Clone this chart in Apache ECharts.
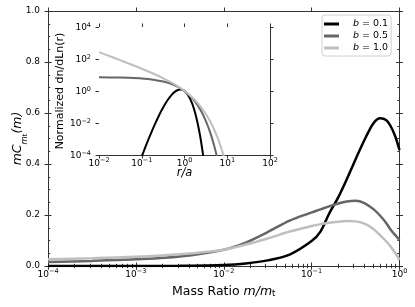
<!DOCTYPE html>
<html><head><meta charset="utf-8">
<script src="https://cdn.jsdelivr.net/npm/echarts@6/dist/echarts.min.js"></script>
<style>html,body{margin:0;padding:0;background:#fff}#c{width:415px;height:307px}</style>
</head><body><div id="c"></div><script>
// ---------- data ----------
const seriesNames = ['b = 0.1', 'b = 0.5', 'b = 1.0'];
const massRatio = [0.0001, 0.000316, 0.001, 0.00316, 0.01, 0.0178, 0.0316, 0.0562, 0.1, 0.126, 0.158, 0.2, 0.251, 0.316, 0.398, 0.501, 0.603, 0.708, 0.794, 0.891, 1.0];
const mcB01 = [0.000, 0.000, 0.000, 0.001, 0.004, 0.010, 0.022, 0.045, 0.098, 0.135, 0.205, 0.268, 0.340, 0.418, 0.493, 0.558, 0.579, 0.572, 0.548, 0.510, 0.455];
const mcB05 = [0.016, 0.020, 0.026, 0.037, 0.064, 0.092, 0.133, 0.178, 0.210, 0.222, 0.234, 0.245, 0.253, 0.256, 0.247, 0.224, 0.197, 0.168, 0.142, 0.122, 0.102];
const mcB10 = [0.026, 0.030, 0.036, 0.046, 0.064, 0.084, 0.108, 0.135, 0.157, 0.164, 0.170, 0.174, 0.176, 0.175, 0.166, 0.146, 0.120, 0.096, 0.076, 0.052, 0.024];

const radiusB01 = [0.09, 0.1, 0.12, 0.15, 0.2, 0.25, 0.3, 0.4, 0.5, 0.6, 0.7, 0.8, 0.9, 1.0, 1.2, 1.5, 1.8, 2.0, 2.3, 2.6, 2.8];
const dnB01 = [3.9e-5, 8.1e-5, 2.86e-4, 1.26e-3, 7.63e-3, 0.0276, 0.072, 0.264, 0.58, 0.917, 1.158, 1.24, 1.17, 1.0, 0.582, 0.173, 0.037, 0.0116, 1.77e-3, 2.35e-4, 5.75e-5];
const radiusB05 = [0.01, 0.03, 0.05, 0.1, 0.2, 0.3, 0.5, 0.7, 1.0, 1.3, 1.6, 2.0, 2.5, 3.0, 3.5, 4.0, 4.5, 5.0, 5.5, 6.0];
const dnB05 = [7.24, 6.96, 6.69, 6.05, 4.95, 4.06, 2.72, 1.82, 1.0, 0.549, 0.301, 0.135, 0.0498, 0.0183, 0.00674, 0.00248, 0.000912, 0.000335, 0.000123, 0.0000454];
const radiusB10 = [0.01, 0.02, 0.03, 0.05, 0.1, 0.2, 0.3, 0.5, 0.7, 1.0, 1.5, 2.0, 3.0, 4.0, 5.0, 6.0, 7.0, 8.0, 9.0];
const dnB10 = [269, 133, 87.9, 51.7, 24.6, 11.1, 6.71, 3.30, 1.93, 1.0, 0.404, 0.184, 0.0451, 0.01245, 0.00366, 0.00112, 0.000354, 0.000114, 0.0000373];

const mainXTicks = [1e-4, 1e-3, 1e-2, 1e-1, 1];
const mainYTicks = [0, 0.2, 0.4, 0.6, 0.8, 1.0];
const mainYMinor = [0.05, 0.1, 0.15, 0.25, 0.3, 0.35, 0.45, 0.5, 0.55, 0.65, 0.7, 0.75, 0.85, 0.9, 0.95];
const insetXTicks = [1e-2, 1e-1, 1, 10, 100];
const insetYTicks = [1e-4, 1e-2, 1, 1e2, 1e4];

// ---------- styling ----------
const FONT = 'DejaVu Sans';
const LINE = '#333';
const colors = ['#000000', '#666666', '#bfbfbf'];

function logMinors(lo, hi) {
  const r = [];
  for (let e = lo; e < hi; e++) for (let k = 2; k <= 9; k++) r.push(k * Math.pow(10, e));
  return r;
}
function sci(v) {
  const e = Math.round(Math.log10(v));
  return '{b|10}{s|' + (e < 0 ? '\u2212' + (-e) : e) + '}';
}
const supRich = {
  b: {fontSize: 9, fontFamily: FONT, color: '#000', lineHeight: 11, verticalAlign: 'bottom'},
  s: {fontSize: 6.5, fontFamily: FONT, color: '#000', lineHeight: 7, verticalAlign: 'top'}
};

function axisSet(dim, gridIndex, base, majors, minors, labelCfg, nameCfg) {
  const pos = dim === 'x' ? ['bottom', 'top'] : ['left', 'right'];
  const out = [];
  pos.forEach((p, k) => {
    out.push(Object.assign({}, base, {
      gridIndex, position: p,
      axisLine: {show: true, onZero: false, lineStyle: {color: LINE, width: 1}},
      axisTick: {show: true, inside: false, length: 3.5, lineStyle: {color: LINE}, customValues: majors},
      axisLabel: k === 0 ? Object.assign({show: true, customValues: majors}, labelCfg) : {show: false},
      splitLine: {show: false}
    }, (k === 0 && nameCfg) ? nameCfg : {}));
    out.push(Object.assign({}, base, {
      gridIndex, position: p,
      axisLine: {show: false},
      axisTick: {show: true, inside: true, length: 3.5, lineStyle: {color: LINE}, customValues: majors},
      axisLabel: {show: false}, splitLine: {show: false}
    }));
    if (minors) out.push(Object.assign({}, base, {
      gridIndex, position: p,
      axisLine: {show: false},
      axisTick: {show: true, inside: true, length: 2.2, lineStyle: {color: LINE}, customValues: minors},
      axisLabel: {show: false}, splitLine: {show: false}
    }));
  });
  return out;
}

const mainX = axisSet('x', 0, {type: 'log', logBase: 10, min: 1e-4, max: 1}, mainXTicks, logMinors(-4, 0),
  {margin: 2, formatter: sci, rich: supRich},
  {name: '{r|Mass Ratio }{i|m/m}{sub|t}', nameLocation: 'middle', nameGap: 16, nameMoveOverlap: false,
   nameTextStyle: {rich: {
     r: {fontSize: 12.5, fontFamily: FONT, color: '#000', lineHeight: 16, verticalAlign: 'bottom'},
     i: {fontSize: 12.5, fontFamily: FONT, fontStyle: 'italic', color: '#000', lineHeight: 16, verticalAlign: 'bottom'},
     sub: {fontSize: 8.5, fontFamily: FONT, color: '#000', lineHeight: 12, verticalAlign: 'bottom'}}}});
const mainY = axisSet('y', 0, {type: 'value', min: 0, max: 1, interval: 0.2}, mainYTicks, mainYMinor,
  {margin: 8, formatter: v => v.toFixed(1), fontSize: 9, fontFamily: FONT, color: '#000'},
  {name: '{i|mC}{sub|m}{sub2|t}{i|(m)}', nameLocation: 'middle', nameGap: 19, nameRotate: 90, nameMoveOverlap: false,
   nameTextStyle: {rich: {
     i: {fontSize: 12.5, fontFamily: FONT, fontStyle: 'italic', color: '#000', lineHeight: 18, verticalAlign: 'top'},
     sub: {fontSize: 8.5, fontFamily: FONT, fontStyle: 'italic', color: '#000', lineHeight: 14, verticalAlign: 'bottom'},
     sub2: {fontSize: 6.5, fontFamily: FONT, color: '#000', lineHeight: 11, verticalAlign: 'bottom'}}}});
const insetX = axisSet('x', 1, {type: 'log', logBase: 10, min: 1e-2, max: 100}, insetXTicks, logMinors(-2, 2),
  {margin: 2, formatter: sci, rich: supRich},
  {name: 'r/a', nameLocation: 'middle', nameGap: 12, nameMoveOverlap: false,
   nameTextStyle: {fontSize: 11.5, fontFamily: FONT, fontStyle: 'italic', color: '#000'}});
const insetY = axisSet('y', 1, {type: 'log', logBase: 10, min: 1e-4, max: 1e4}, insetYTicks, null,
  {margin: 8, formatter: sci, rich: supRich},
  {name: 'Normalized dn/dLn(r)', nameLocation: 'middle', nameGap: 33, nameRotate: 90, nameMoveOverlap: false,
   nameTextStyle: {fontSize: 11, fontFamily: FONT, color: '#000'}});

const xAxes = mainX.concat(insetX);
const yAxes = mainY.concat(insetY);
const insetXi = mainX.length, insetYi = mainY.length;

function lineSeries(name, xs, ys, color, width, xi, yi) {
  return {
    type: 'line', name, xAxisIndex: xi, yAxisIndex: yi,
    data: xs.map((x, i) => [x, ys[i]]),
    showSymbol: false, smooth: 0.3, clip: true, color,
    lineStyle: {color, width}
  };
}

const option = {
  animation: false,
  backgroundColor: '#fff',
  grid: [
    {left: 48, top: 11, right: 15.5, bottom: 41, containLabel: false, outerBoundsMode: 'none'},
    {left: 99, top: 27, width: 171, height: 128, show: true, backgroundColor: '#fff', borderWidth: 0, z: 3,
     containLabel: false, outerBoundsMode: 'none'}
  ],
  xAxis: xAxes,
  yAxis: yAxes,
  legend: {
    left: 322, top: 15, orient: 'vertical', data: seriesNames,
    icon: 'rect', itemWidth: 15, itemHeight: 3, itemGap: 2,
    padding: [4, 3, 3, 2],
    backgroundColor: '#fff', borderColor: '#d0d0d0', borderWidth: 1, borderRadius: 3,
    formatter: n => '{i|b}{t| = ' + n.split('= ')[1] + '}',
    textStyle: {padding: [0, 0, 0, 9], rich: {
      i: {fontSize: 9.5, fontFamily: FONT, fontStyle: 'italic', color: '#000', lineHeight: 12.5},
      t: {fontSize: 9.5, fontFamily: FONT, color: '#000', lineHeight: 12.5}}}
  },
  series: [
    lineSeries(seriesNames[0], massRatio, mcB01, colors[0], 2.5, 0, 0),
    lineSeries(seriesNames[1], massRatio, mcB05, colors[1], 2.5, 0, 0),
    lineSeries(seriesNames[2], massRatio, mcB10, colors[2], 2.5, 0, 0),
    lineSeries(seriesNames[0], radiusB01, dnB01, colors[0], 2, insetXi, insetYi),
    lineSeries(seriesNames[1], radiusB05, dnB05, colors[1], 2, insetXi, insetYi),
    lineSeries(seriesNames[2], radiusB10, dnB10, colors[2], 2, insetXi, insetYi)
  ]
};
const chart = echarts.init(document.getElementById('c'), null, {renderer: 'canvas'});
chart.setOption(option);
</script></body></html>
